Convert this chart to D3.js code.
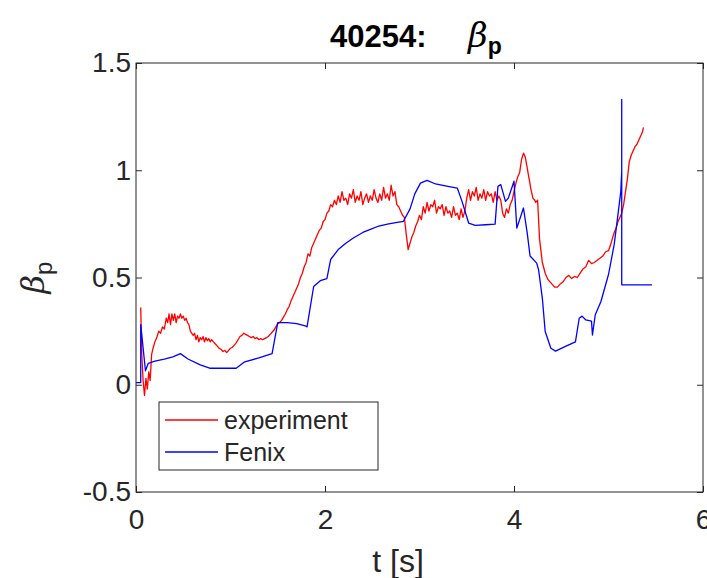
<!DOCTYPE html>
<html>
<head>
<meta charset="utf-8">
<script src="https://cdn.jsdelivr.net/npm/d3@7"></script>
<style>
  body { margin: 0; background: #fff; }
  text { font-family: "Liberation Sans", Arial, sans-serif; fill: #262626; }
</style>
</head>
<body>
<div id="chart"></div>
<script>
// experiment (red) : time [s], beta_p
var expTime = [0.05,0.06,0.075,0.09,0.105,0.12,0.135,0.15,0.165,0.18,0.2,0.22,0.24,0.26,0.28,0.30,0.32,0.335,0.35,0.365,0.38,0.395,0.41,0.425,0.44,0.455,0.47,0.485,0.50,0.515,0.53,0.545,0.56,0.575,0.59,0.605,0.62,0.635,0.65,0.665,0.68,0.695,0.71,0.725,0.74,0.755,0.77,0.785,0.80,0.82,0.84,0.86,0.88,0.90,0.92,0.94,0.96,0.98,1.00,1.02,1.04,1.06,1.08,1.10,1.12,1.14,1.16,1.18,1.20,1.22,1.24,1.26,1.28,1.30,1.32,1.34,1.36,1.38,1.40,1.42,1.44,1.46,1.48,1.50,1.52,1.54,1.56,1.58,1.60,1.62,1.64,1.66,1.68,1.70,1.72,1.74,1.76,1.78,1.80,1.82,1.84,1.86,1.88,1.90,1.92,1.94,1.96,1.98,2.00,2.02,2.04,2.06,2.08,2.10,2.12,2.14,2.16,2.18,2.20,2.22,2.24,2.26,2.28,2.30,2.32,2.34,2.36,2.38,2.40,2.42,2.44,2.46,2.48,2.50,2.52,2.54,2.56,2.58,2.60,2.62,2.64,2.66,2.68,2.70,2.72,2.74,2.76,2.78,2.80,2.82,2.84,2.86,2.88,2.90,2.92,2.94,2.96,2.98,3.00,3.02,3.04,3.06,3.08,3.10,3.12,3.14,3.16,3.18,3.20,3.22,3.24,3.26,3.28,3.30,3.32,3.34,3.36,3.38,3.40,3.42,3.44,3.46,3.48,3.50,3.52,3.54,3.56,3.58,3.60,3.62,3.64,3.66,3.68,3.70,3.72,3.74,3.76,3.78,3.80,3.82,3.84,3.86,3.88,3.90,3.92,3.94,3.96,3.98,4.00,4.02,4.04,4.06,4.07,4.08,4.10,4.12,4.14,4.16,4.18,4.20,4.22,4.23,4.25,4.27,4.30,4.33,4.36,4.40,4.43,4.46,4.49,4.52,4.55,4.58,4.61,4.64,4.67,4.70,4.73,4.76,4.79,4.82,4.85,4.88,4.91,4.94,4.97,5.00,5.02,5.04,5.06,5.08,5.10,5.12,5.14,5.16,5.18,5.20,5.22,5.24,5.26,5.28,5.30,5.32,5.34,5.36,5.37];
var expBeta = [0.36,0.15,0.02,-0.05,0.03,-0.02,0.06,0.02,0.14,0.17,0.2,0.22,0.25,0.24,0.27,0.26,0.31,0.29,0.33,0.28,0.33,0.30,0.33,0.29,0.32,0.31,0.33,0.31,0.32,0.30,0.31,0.29,0.28,0.25,0.24,0.23,0.24,0.21,0.23,0.20,0.22,0.21,0.225,0.20,0.22,0.205,0.215,0.20,0.21,0.20,0.19,0.18,0.17,0.165,0.155,0.16,0.15,0.16,0.17,0.175,0.185,0.195,0.21,0.225,0.23,0.24,0.235,0.23,0.225,0.22,0.225,0.215,0.22,0.21,0.215,0.21,0.215,0.22,0.225,0.235,0.245,0.255,0.27,0.285,0.29,0.30,0.315,0.33,0.35,0.365,0.39,0.41,0.43,0.45,0.47,0.50,0.52,0.55,0.57,0.61,0.60,0.64,0.66,0.68,0.70,0.72,0.73,0.76,0.77,0.80,0.81,0.84,0.83,0.86,0.84,0.88,0.85,0.90,0.86,0.87,0.84,0.89,0.87,0.91,0.85,0.88,0.86,0.90,0.84,0.87,0.89,0.85,0.88,0.86,0.91,0.87,0.85,0.89,0.86,0.92,0.87,0.89,0.86,0.93,0.88,0.90,0.84,0.83,0.81,0.79,0.78,0.70,0.63,0.66,0.69,0.71,0.74,0.76,0.79,0.77,0.83,0.80,0.85,0.81,0.84,0.83,0.86,0.80,0.83,0.82,0.84,0.79,0.83,0.80,0.81,0.78,0.83,0.79,0.80,0.77,0.82,0.78,0.81,0.87,0.91,0.86,0.90,0.88,0.92,0.86,0.89,0.87,0.91,0.86,0.90,0.88,0.89,0.85,0.90,0.86,0.88,0.86,0.80,0.78,0.82,0.80,0.84,0.86,0.90,0.94,0.97,0.99,1.02,1.05,1.08,1.06,1.01,0.96,0.91,0.87,0.86,0.85,0.86,0.68,0.57,0.52,0.49,0.47,0.455,0.455,0.47,0.48,0.50,0.51,0.495,0.505,0.50,0.52,0.54,0.55,0.58,0.565,0.57,0.58,0.59,0.60,0.62,0.625,0.65,0.68,0.71,0.73,0.76,0.78,0.80,0.84,0.90,0.96,1.04,1.07,1.09,1.11,1.12,1.14,1.16,1.18,1.20,1.23,1.25];

// Fenix (blue)
var fenixTime = [0,0.05,0.05,0.1,0.13,0.2,0.3,0.39,0.47,0.55,0.68,0.78,1.06,1.15,1.3,1.44,1.5,1.6,1.7,1.79,1.81,1.88,1.95,2.02,2.06,2.14,2.22,2.3,2.4,2.48,2.57,2.66,2.75,2.83,2.9,2.95,3.01,3.08,3.17,3.3,3.4,3.45,3.52,3.59,3.7,3.8,3.83,3.86,3.91,3.94,4.0,4.03,4.1,4.14,4.17,4.24,4.26,4.3,4.33,4.39,4.44,4.55,4.65,4.69,4.72,4.76,4.82,4.83,4.86,4.92,5.0,5.06,5.1,5.13,5.14,5.14,5.14,5.46];
var fenixBeta = [0.01,0.01,0.28,0.065,0.10,0.11,0.12,0.13,0.145,0.12,0.093,0.077,0.077,0.107,0.125,0.145,0.29,0.29,0.285,0.275,0.27,0.458,0.485,0.495,0.584,0.63,0.66,0.684,0.71,0.724,0.74,0.749,0.756,0.762,0.82,0.89,0.94,0.953,0.936,0.925,0.917,0.855,0.754,0.743,0.746,0.749,0.925,0.933,0.855,0.87,0.949,0.73,0.824,0.707,0.6,0.567,0.536,0.403,0.248,0.17,0.157,0.18,0.2,0.31,0.32,0.302,0.297,0.232,0.326,0.388,0.514,0.653,0.793,0.9,0.995,1.33,0.466,0.466];

var xTicks = [0, 2, 4, 6];
var yTicks = [-0.5, 0, 0.5, 1, 1.5];
var seriesNames = ["experiment", "Fenix"];

var width = 707, height = 578;
var margin = {left: 136, right: 4, top: 63, bottom: 86};
var axisColor = "#262626";

var svg = d3.select("#chart").append("svg")
    .attr("width", width)
    .attr("height", height);

var x = d3.scaleLinear().domain([0, 6]).range([margin.left, width - margin.right]);
var y = d3.scaleLinear().domain([-0.5, 1.5]).range([height - margin.bottom, margin.top]);

var plot = svg.append("g");

var line = d3.line()
    .x(function (d) { return x(d[0]); })
    .y(function (d) { return y(d[1]); });

function pairs(ts, vs) {
  return ts.map(function (t, i) { return [t, vs[i]]; });
}

plot.append("path")
    .datum(pairs(expTime, expBeta))
    .attr("d", line)
    .attr("fill", "none")
    .attr("stroke", "#ff0000")
    .attr("stroke-width", 1.3)
    .attr("stroke-linejoin", "round");

plot.append("path")
    .datum(pairs(fenixTime, fenixBeta))
    .attr("d", line)
    .attr("fill", "none")
    .attr("stroke", "#0000ff")
    .attr("stroke-width", 1.3)
    .attr("stroke-linejoin", "round");

// axes box with inward ticks (matlab style)
var tickLen = 6;
function styleAxis(g) {
  g.select(".domain").remove();
  g.selectAll(".tick line").attr("stroke", axisColor);
  g.selectAll(".tick text")
    .attr("fill", axisColor)
    .style("font-size", "28px")
    .style("font-family", "Liberation Sans, Arial, sans-serif");
}

svg.append("g")
    .attr("transform", "translate(0," + y(-0.5) + ")")
    .call(d3.axisBottom(x).tickValues(xTicks).tickFormat(d3.format("d")).tickSizeInner(-tickLen).tickPadding(17))
    .call(styleAxis);
svg.append("g")
    .attr("transform", "translate(0," + y(1.5) + ")")
    .call(d3.axisTop(x).tickValues(xTicks).tickFormat("").tickSizeInner(-tickLen))
    .call(styleAxis);
svg.append("g")
    .attr("transform", "translate(" + x(0) + ",0)")
    .call(d3.axisLeft(y).tickValues(yTicks).tickFormat(function (d) { return String(d); }).tickSizeInner(-tickLen).tickPadding(5))
    .call(styleAxis);
svg.append("g")
    .attr("transform", "translate(" + x(6) + ",0)")
    .call(d3.axisRight(y).tickValues(yTicks).tickFormat("").tickSizeInner(-tickLen))
    .call(styleAxis);

svg.append("rect")
    .attr("x", x(0)).attr("y", y(1.5))
    .attr("width", x(6) - x(0)).attr("height", y(-0.5) - y(1.5))
    .attr("fill", "none").attr("stroke", axisColor).attr("stroke-width", 1);

// title
var title = svg.append("text")
    .attr("x", 330).attr("y", 47)
    .style("font-size", "31px")
    .attr("fill", "#000");
title.append("tspan").attr("font-weight", "bold").attr("fill", "#000").text("40254:");
title.append("tspan").attr("x", 468).attr("font-style", "italic").attr("fill", "#000")
    .style("font-family", "DejaVu Serif, serif").style("font-size", "34px").text("\u03b2");
title.append("tspan").attr("font-weight", "bold").attr("dy", 7).attr("fill", "#000")
    .style("font-size", "23px").text("p");

// axis labels
svg.append("text")
    .attr("x", 398).attr("y", 572)
    .attr("text-anchor", "middle")
    .style("font-size", "32px")
    .text("t [s]");

var ylab = svg.append("text")
    .attr("transform", "translate(44," + ((y(1.5) + y(-0.5)) / 2) + ") rotate(-90)")
    .attr("text-anchor", "middle")
    .style("font-size", "32px");
ylab.append("tspan").attr("font-style", "italic").style("font-family", "DejaVu Serif, serif").text("\u03b2");
ylab.append("tspan").attr("dy", 8).style("font-size", "24px").text("p");

// legend
var legend = svg.append("g").attr("transform", "translate(159,402)");
legend.append("rect")
    .attr("width", 219).attr("height", 68)
    .attr("fill", "#fff").attr("stroke", axisColor).attr("stroke-width", 1);
var legendColors = ["#ff0000", "#0000ff"];
seriesNames.forEach(function (name, i) {
  var ly = 18 + i * 32;
  legend.append("line")
      .attr("x1", 6).attr("x2", 59).attr("y1", ly).attr("y2", ly)
      .attr("stroke", legendColors[i]).attr("stroke-width", 1.3);
  legend.append("text")
      .attr("x", 65).attr("y", ly + 9)
      .style("font-size", "25px")
      .attr("fill", "#000")
      .text(name);
});
</script>
</body>
</html>
